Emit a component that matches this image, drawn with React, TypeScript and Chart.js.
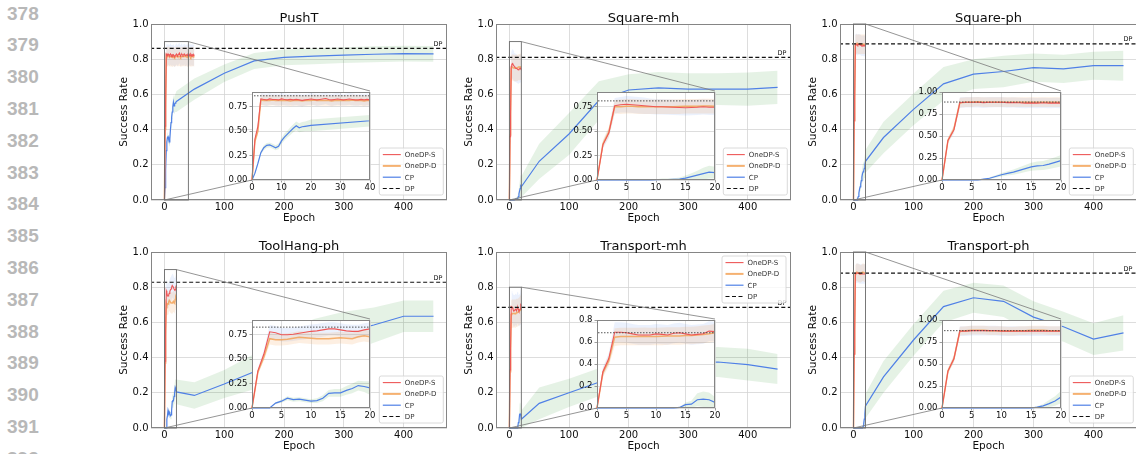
import React, { useEffect, useRef } from "react";
import { Chart, registerables } from "chart.js";

Chart.register(...registerables);

// ---------------- text / ticks ----------------
const LINE_NUMBERS = [378, 379, 380, 381, 382, 383, 384, 385, 386, 387, 388, 389, 390, 391, 392];
const PANEL_TITLES = ["PushT", "Square-mh", "Square-ph", "ToolHang-ph", "Transport-mh", "Transport-ph"];
const SERIES_LABELS = ["OneDP-S", "OneDP-D", "CP", "DP"];
const X_AXIS_LABEL = "Epoch";
const Y_AXIS_LABEL = "Success Rate";
const DP_TEXT = "DP";
const MAIN_X_TICKS = [0, 100, 200, 300, 400];
const MAIN_Y_TICKS = [0, 0.2, 0.4, 0.6, 0.8, 1.0];
const INSET_X_TICKS_40 = [0, 10, 20, 30, 40];
const INSET_X_TICKS_20 = [0, 5, 10, 15, 20];
const INSET_Y_TICKS_Q = [0, 0.25, 0.5, 0.75];
const INSET_Y_TICKS_Q1 = [0, 0.25, 0.5, 0.75, 1.0];
const INSET_Y_TICKS_F = [0, 0.2, 0.4, 0.6, 0.8];

// ---------------- x categories ----------------
const EPOCHS_50 = [0, 1, 2, 3, 4, 5, 6, 7, 8, 9, 10, 11, 12, 13, 14, 15, 16, 17, 18, 19, 20, 21, 22, 23, 24, 25, 26, 27, 28, 29, 30, 31, 32, 33, 34, 35, 36, 37, 38, 39, 40, 41, 42, 43, 44, 45, 46, 47, 48, 49, 50];
const EPOCHS_20 = [0, 1, 2, 3, 4, 5, 6, 7, 8, 9, 10, 11, 12, 13, 14, 15, 16, 17, 18, 19, 20];
const CP_EPOCHS = [0, 1, 2, 3, 4, 5, 6, 7, 8, 9, 10, 11, 12, 13, 14, 15, 16, 17, 18, 19, 20, 50, 100, 150, 200, 250, 300, 350, 400, 450];

// ---------------- PushT ----------------
const PUSHT_S = [0, 0.42, 0.55, 0.83, 0.825, 0.82, 0.83, 0.825, 0.825, 0.82, 0.83,
  0.825, 0.82, 0.825, 0.82, 0.825, 0.82, 0.815, 0.82, 0.825, 0.83,
  0.825, 0.82, 0.825, 0.83, 0.835, 0.825, 0.82, 0.825, 0.83, 0.825,
  0.82, 0.825, 0.83, 0.825, 0.82, 0.82, 0.825, 0.82, 0.825, 0.82,
  0.83, 0.825, 0.82, 0.83, 0.825, 0.82, 0.825, 0.82, 0.825, 0.82];
const PUSHT_S_STD = [0, 0.03, 0.04, 0.06, 0.06, 0.062, 0.06, 0.058, 0.06, 0.06, 0.062,
  0.06, 0.06, 0.058, 0.06, 0.06, 0.062, 0.06, 0.06, 0.058, 0.06,
  0.06, 0.062, 0.06, 0.06, 0.058, 0.06, 0.06, 0.062, 0.06, 0.06,
  0.058, 0.06, 0.06, 0.062, 0.06, 0.06, 0.058, 0.06, 0.06, 0.062,
  0.06, 0.06, 0.058, 0.06, 0.06, 0.062, 0.06, 0.06, 0.058, 0.06];
const PUSHT_D = [0, 0.40, 0.50, 0.82, 0.815, 0.815, 0.815, 0.82, 0.815, 0.815, 0.815,
  0.815, 0.815, 0.81, 0.815, 0.815, 0.815, 0.81, 0.815, 0.815, 0.815,
  0.82, 0.815, 0.815, 0.815, 0.815, 0.815, 0.81, 0.815, 0.815, 0.815,
  0.815, 0.815, 0.815, 0.82, 0.815, 0.815, 0.815, 0.81, 0.815, 0.815,
  0.815, 0.815, 0.815, 0.81, 0.815, 0.815, 0.815, 0.815, 0.815, 0.81];
const PUSHT_D_STD = [0, 0.03, 0.04, 0.055, 0.055, 0.056, 0.055, 0.054, 0.055, 0.055, 0.056,
  0.055, 0.055, 0.054, 0.055, 0.055, 0.056, 0.055, 0.055, 0.054, 0.055,
  0.055, 0.056, 0.055, 0.055, 0.054, 0.055, 0.055, 0.056, 0.055, 0.055,
  0.054, 0.055, 0.055, 0.056, 0.055, 0.055, 0.054, 0.055, 0.055, 0.056,
  0.055, 0.055, 0.054, 0.055, 0.055, 0.056, 0.055, 0.055, 0.054, 0.055];
const PUSHT_CP = [0, 0.07, 0.17, 0.28, 0.33, 0.355, 0.36, 0.345, 0.33, 0.345, 0.40, 0.44, 0.47, 0.50, 0.53, 0.555, 0.535, 0.545, 0.55, 0.555, 0.56,
  0.63, 0.72, 0.79, 0.81, 0.817, 0.823, 0.828, 0.832, 0.83];
const PUSHT_CP_STD = [0, 0.01, 0.015, 0.02, 0.025, 0.025, 0.025, 0.025, 0.025, 0.03, 0.03, 0.035, 0.035, 0.04, 0.04, 0.045, 0.045, 0.05, 0.05, 0.055, 0.06,
  0.06, 0.05, 0.045, 0.045, 0.045, 0.045, 0.045, 0.045, 0.045];
const PUSHT_DP = 0.862;

// ---------------- Square-mh ----------------
const SQMH_S = [0, 0.36, 0.48, 0.76, 0.77, 0.775, 0.77, 0.765, 0.76, 0.755, 0.75, 0.75, 0.748, 0.745, 0.742, 0.74, 0.742, 0.745, 0.75, 0.745, 0.745];
const SQMH_S_STD = [0, 0.04, 0.05, 0.08, 0.08, 0.085, 0.085, 0.085, 0.085, 0.08, 0.08, 0.08, 0.08, 0.08, 0.08, 0.08, 0.08, 0.08, 0.08, 0.08, 0.08];
const SQMH_D = [0, 0.37, 0.49, 0.75, 0.75, 0.755, 0.755, 0.75, 0.75, 0.75, 0.75, 0.75, 0.75, 0.75, 0.752, 0.755, 0.755, 0.755, 0.757, 0.757, 0.755];
const SQMH_D_STD = [0, 0.04, 0.05, 0.07, 0.075, 0.075, 0.075, 0.075, 0.075, 0.075, 0.075, 0.075, 0.075, 0.075, 0.075, 0.075, 0.075, 0.075, 0.075, 0.075, 0.075];
const SQMH_CP = [0, 0, 0, 0, 0, 0, 0, 0, 0, 0, 0.003, 0.005, 0.005, 0.007, 0.01, 0.02, 0.035, 0.05, 0.065, 0.08, 0.075,
  0.22, 0.375, 0.565, 0.625, 0.637, 0.63, 0.63, 0.63, 0.64];
const SQMH_CP_STD = [0, 0, 0, 0, 0, 0, 0, 0, 0, 0, 0.005, 0.01, 0.01, 0.01, 0.015, 0.025, 0.035, 0.045, 0.06, 0.065, 0.06,
  0.1, 0.12, 0.11, 0.09, 0.09, 0.09, 0.09, 0.095, 0.095];
const SQMH_DP = 0.81;

// ---------------- Square-ph ----------------
const SQPH_S = [0, 0.45, 0.57, 0.88, 0.885, 0.885, 0.885, 0.88, 0.885, 0.885, 0.885, 0.88, 0.882, 0.878, 0.875, 0.877, 0.875, 0.878, 0.875, 0.877, 0.875];
const SQPH_S_STD = [0, 0.03, 0.04, 0.06, 0.06, 0.06, 0.06, 0.06, 0.06, 0.058, 0.058, 0.058, 0.058, 0.058, 0.058, 0.058, 0.058, 0.058, 0.058, 0.058, 0.058];
const SQPH_D = [0, 0.45, 0.58, 0.88, 0.885, 0.885, 0.89, 0.885, 0.885, 0.885, 0.885, 0.885, 0.885, 0.885, 0.885, 0.885, 0.885, 0.885, 0.885, 0.885, 0.885];
const SQPH_D_STD = [0, 0.03, 0.04, 0.055, 0.055, 0.055, 0.055, 0.055, 0.055, 0.055, 0.055, 0.055, 0.055, 0.055, 0.055, 0.055, 0.055, 0.055, 0.055, 0.055, 0.055];
const SQPH_CP = [0, 0, 0, 0, 0, 0, 0, 0.01, 0.02, 0.04, 0.06, 0.075, 0.09, 0.11, 0.13, 0.15, 0.16, 0.165, 0.18, 0.2, 0.22,
  0.355, 0.515, 0.66, 0.715, 0.73, 0.752, 0.745, 0.763, 0.763];
const SQPH_CP_STD = [0, 0, 0, 0, 0, 0, 0, 0.005, 0.01, 0.015, 0.02, 0.025, 0.03, 0.035, 0.04, 0.045, 0.05, 0.05, 0.055, 0.06, 0.065,
  0.09, 0.09, 0.095, 0.085, 0.09, 0.08, 0.08, 0.08, 0.085];
const SQPH_DP = 0.887;

// ---------------- ToolHang-ph ----------------
const TOOL_S = [0, 0.38, 0.55, 0.78, 0.77, 0.75, 0.75, 0.755, 0.765, 0.775, 0.785, 0.79, 0.8, 0.81, 0.81, 0.8, 0.79, 0.785, 0.785, 0.8, 0.81];
const TOOL_S_STD = [0, 0.03, 0.04, 0.07, 0.07, 0.07, 0.07, 0.07, 0.07, 0.07, 0.07, 0.07, 0.07, 0.068, 0.068, 0.068, 0.068, 0.068, 0.068, 0.068, 0.068];
const TOOL_D = [0, 0.37, 0.52, 0.71, 0.7, 0.7, 0.705, 0.715, 0.725, 0.72, 0.715, 0.71, 0.71, 0.71, 0.715, 0.72, 0.715, 0.71, 0.73, 0.74, 0.73];
const TOOL_D_STD = [0, 0.03, 0.04, 0.06, 0.06, 0.06, 0.06, 0.06, 0.06, 0.06, 0.06, 0.06, 0.06, 0.06, 0.06, 0.06, 0.06, 0.06, 0.06, 0.06, 0.06];
const TOOL_CP = [0, 0, 0, 0, 0.05, 0.07, 0.1, 0.085, 0.09, 0.08, 0.07, 0.075, 0.1, 0.15, 0.155, 0.155, 0.18, 0.2, 0.23, 0.22, 0.205,
  0.185, 0.25, 0.32, 0.42, 0.5, 0.54, 0.585, 0.635, 0.635];
const TOOL_CP_STD = [0, 0, 0, 0, 0.01, 0.015, 0.02, 0.02, 0.02, 0.02, 0.02, 0.025, 0.03, 0.035, 0.04, 0.04, 0.045, 0.05, 0.05, 0.055, 0.07,
  0.075, 0.08, 0.1, 0.12, 0.12, 0.12, 0.1, 0.09, 0.09];
const TOOL_DP = 0.828;

// ---------------- Transport-mh ----------------
const TRMH_S = [0, 0.33, 0.45, 0.69, 0.69, 0.685, 0.675, 0.665, 0.665, 0.665, 0.675, 0.67, 0.665, 0.68, 0.685, 0.675, 0.665, 0.67, 0.675, 0.7, 0.695];
const TRMH_S_STD = [0, 0.04, 0.05, 0.09, 0.09, 0.09, 0.09, 0.09, 0.09, 0.09, 0.09, 0.09, 0.09, 0.09, 0.09, 0.09, 0.09, 0.09, 0.09, 0.09, 0.09];
const TRMH_D = [0, 0.32, 0.43, 0.645, 0.65, 0.65, 0.65, 0.65, 0.652, 0.65, 0.65, 0.652, 0.655, 0.655, 0.655, 0.66, 0.66, 0.665, 0.67, 0.675, 0.685];
const TRMH_D_STD = [0, 0.04, 0.05, 0.08, 0.08, 0.08, 0.08, 0.08, 0.08, 0.08, 0.08, 0.08, 0.08, 0.08, 0.08, 0.08, 0.08, 0.08, 0.08, 0.08, 0.08];
const TRMH_CP = [0, 0, 0, 0, 0, 0, 0, 0, 0, 0, 0, 0, 0, 0, 0.005, 0.03, 0.035, 0.075, 0.08, 0.075, 0.05,
  0.14, 0.2, 0.26, 0.31, 0.35, 0.37, 0.375, 0.36, 0.335];
const TRMH_CP_STD = [0, 0, 0, 0, 0, 0, 0, 0, 0, 0, 0, 0, 0, 0, 0.005, 0.02, 0.03, 0.06, 0.07, 0.065, 0.05,
  0.09, 0.08, 0.08, 0.085, 0.085, 0.085, 0.085, 0.09, 0.085];
const TRMH_DP = 0.685;

// ---------------- Transport-ph ----------------
const TRPH_S = [0, 0.42, 0.56, 0.875, 0.875, 0.88, 0.88, 0.88, 0.88, 0.88, 0.875, 0.875, 0.875, 0.875, 0.875, 0.875, 0.875, 0.875, 0.875, 0.875, 0.875];
const TRPH_S_STD = [0, 0.03, 0.04, 0.055, 0.055, 0.055, 0.055, 0.055, 0.055, 0.055, 0.055, 0.055, 0.055, 0.055, 0.055, 0.055, 0.055, 0.055, 0.055, 0.055, 0.055];
const TRPH_D = [0, 0.42, 0.56, 0.875, 0.88, 0.885, 0.885, 0.885, 0.88, 0.88, 0.88, 0.875, 0.875, 0.88, 0.88, 0.885, 0.885, 0.885, 0.88, 0.88, 0.88];
const TRPH_D_STD = [0, 0.03, 0.04, 0.05, 0.05, 0.05, 0.05, 0.05, 0.05, 0.05, 0.05, 0.05, 0.05, 0.05, 0.05, 0.05, 0.05, 0.05, 0.05, 0.05, 0.05];
const TRPH_CP = [0, 0, 0, 0, 0, 0, 0, 0, 0, 0, 0, 0, 0, 0, 0, 0, 0.01, 0.025, 0.05, 0.08, 0.125,
  0.29, 0.5, 0.69, 0.74, 0.72, 0.63, 0.575, 0.505, 0.54];
const TRPH_CP_STD = [0, 0, 0, 0, 0, 0, 0, 0, 0, 0, 0, 0, 0, 0, 0, 0, 0.01, 0.02, 0.04, 0.055, 0.07,
  0.09, 0.09, 0.09, 0.085, 0.09, 0.09, 0.085, 0.09, 0.1];
const TRPH_DP = 0.88;

// ---------------- panel tables ----------------
const PANELS = [
  { title: PANEL_TITLES[0], epochs: EPOCHS_50, s: PUSHT_S, sStd: PUSHT_S_STD, d: PUSHT_D, dStd: PUSHT_D_STD, cp: PUSHT_CP, cpStd: PUSHT_CP_STD, dp: PUSHT_DP, zoomX: 40, zoomY: 0.9, insetXTicks: INSET_X_TICKS_40, insetYTicks: INSET_Y_TICKS_Q, insetYDec: 2, legendTop: false },
  { title: PANEL_TITLES[1], epochs: EPOCHS_20, s: SQMH_S, sStd: SQMH_S_STD, d: SQMH_D, dStd: SQMH_D_STD, cp: SQMH_CP, cpStd: SQMH_CP_STD, dp: SQMH_DP, zoomX: 20, zoomY: 0.9, insetXTicks: INSET_X_TICKS_20, insetYTicks: INSET_Y_TICKS_Q, insetYDec: 2, legendTop: false },
  { title: PANEL_TITLES[2], epochs: EPOCHS_20, s: SQPH_S, sStd: SQPH_S_STD, d: SQPH_D, dStd: SQPH_D_STD, cp: SQPH_CP, cpStd: SQPH_CP_STD, dp: SQPH_DP, zoomX: 20, zoomY: 1.0, insetXTicks: INSET_X_TICKS_20, insetYTicks: INSET_Y_TICKS_Q1, insetYDec: 2, legendTop: false },
  { title: PANEL_TITLES[3], epochs: EPOCHS_20, s: TOOL_S, sStd: TOOL_S_STD, d: TOOL_D, dStd: TOOL_D_STD, cp: TOOL_CP, cpStd: TOOL_CP_STD, dp: TOOL_DP, zoomX: 20, zoomY: 0.9, insetXTicks: INSET_X_TICKS_20, insetYTicks: INSET_Y_TICKS_Q, insetYDec: 2, legendTop: false },
  { title: PANEL_TITLES[4], epochs: EPOCHS_20, s: TRMH_S, sStd: TRMH_S_STD, d: TRMH_D, dStd: TRMH_D_STD, cp: TRMH_CP, cpStd: TRMH_CP_STD, dp: TRMH_DP, zoomX: 20, zoomY: 0.8, insetXTicks: INSET_X_TICKS_20, insetYTicks: INSET_Y_TICKS_F, insetYDec: 1, legendTop: true },
  { title: PANEL_TITLES[5], epochs: EPOCHS_20, s: TRPH_S, sStd: TRPH_S_STD, d: TRPH_D, dStd: TRPH_D_STD, cp: TRPH_CP, cpStd: TRPH_CP_STD, dp: TRPH_DP, zoomX: 20, zoomY: 1.0, insetXTicks: INSET_X_TICKS_20, insetYTicks: INSET_Y_TICKS_Q1, insetYDec: 2, legendTop: false },
];

// ---------------- style / layout ----------------
const FONT = "'DejaVu Sans', sans-serif";
const TEXT = "#0d0d0d";
const GRID = "#d4d4d4";
const SPINE = "#858585";
const RED = "#ee5757";
const ORANGE = "rgba(243,163,88,0.85)";
const BLUE = "#4f80e6";
const GREEN_BAND = "rgba(0,128,0,0.1)";
const S_BAND = "rgba(100,149,237,0.13)";
const D_BAND = "rgba(244,164,96,0.18)";
const COL_LEFT = [151, 496, 840];
const COL_WIDTH = [296, 295, 297];
const ROW_TOP = [24, 252];
const PLOT_H = 176;
const M_PAD_L = 55, M_PAD_T = 24, M_PAD_R = 12, M_PAD_B = 30;
const I_PAD_L = 28, I_PAD_T = 6, I_PAD_R = 8, I_PAD_B = 14;
const X_MIN = -22.5, X_MAX = 472.5;
const DP_LABEL_EPOCH = 450;

type Panel = typeof PANELS[number];

function pts(xs: number[], ys: number[], sd?: number[], sign = 0) {
  return xs.map((x, i) => ({ x, y: ys[i] + (sd ? sign * sd[i] : 0) }));
}

function buildDatasets(p: Panel, inset: boolean): any[] {
  const clip = { left: 2, top: 0, right: 0, bottom: 2 };
  const band = { pointRadius: 0, borderWidth: 0, borderColor: "rgba(0,0,0,0)" };
  const line = { pointRadius: 0, fill: false, clip };
  return [
    { ...band, label: "cp+", data: pts(CP_EPOCHS, p.cp, p.cpStd, 1), fill: false, order: 30 },
    { ...band, label: "cp-", data: pts(CP_EPOCHS, p.cp, p.cpStd, -1), fill: "-1", backgroundColor: GREEN_BAND, order: 30 },
    { ...band, label: "s+", data: pts(p.epochs, p.s, p.sStd, 1), fill: false, order: 20 },
    { ...band, label: "s-", data: pts(p.epochs, p.s, p.sStd, -1), fill: "-1", backgroundColor: S_BAND, order: 20 },
    { ...band, label: "d+", data: pts(p.epochs, p.d, p.dStd, 1), fill: false, order: 19 },
    { ...band, label: "d-", data: pts(p.epochs, p.d, p.dStd, -1), fill: "-1", backgroundColor: D_BAND, order: 19 },
    { ...line, label: SERIES_LABELS[2], data: pts(CP_EPOCHS, p.cp), borderColor: BLUE, borderWidth: 1.2, order: 5 },
    { ...line, label: SERIES_LABELS[1], data: pts(p.epochs, p.d), borderColor: ORANGE, borderWidth: 1.5, order: 4 },
    { ...line, label: SERIES_LABELS[0], data: pts(p.epochs, p.s), borderColor: RED, borderWidth: 1.1, order: 3 },
    {
      label: SERIES_LABELS[3], data: [{ x: -100, y: p.dp }, { x: 1000, y: p.dp }], pointRadius: 0, fill: false,
      borderColor: inset ? "#444" : "#111", borderDash: inset ? [1.5, 1.5] : [4, 2.5], borderWidth: inset ? 0.9 : 1.2, order: 2,
    },
  ];
}

function tickSetter(values: number[]) {
  return (s: any) => { s.ticks = values.map((value) => ({ value })); };
}

function drawLegend(ctx: CanvasRenderingContext2D, a: any, top: boolean) {
  const bw = 64, bh = 47, rowH = 11.3;
  const bx = top ? a.right - 5 - bw : a.right - 3.7 - bw;
  const by = top ? a.top + 4 : a.bottom - 5 - bh;
  ctx.save();
  ctx.beginPath();
  const r = 2;
  ctx.moveTo(bx + r, by);
  ctx.arcTo(bx + bw, by, bx + bw, by + bh, r);
  ctx.arcTo(bx + bw, by + bh, bx, by + bh, r);
  ctx.arcTo(bx, by + bh, bx, by, r);
  ctx.arcTo(bx, by, bx + bw, by, r);
  ctx.closePath();
  ctx.fillStyle = "rgba(255,255,255,0.8)";
  ctx.fill();
  ctx.strokeStyle = "#d0d0d0";
  ctx.lineWidth = 0.8;
  ctx.stroke();
  const styles = [
    { c: RED, w: 1.1, dash: [] as number[] },
    { c: ORANGE, w: 2, dash: [] as number[] },
    { c: BLUE, w: 1.2, dash: [] as number[] },
    { c: "#111", w: 1.2, dash: [4, 2.5] },
  ];
  ctx.font = `7px ${FONT}`;
  ctx.textBaseline = "middle";
  ctx.textAlign = "left";
  SERIES_LABELS.forEach((lab, i) => {
    const y = by + 6.6 + rowH * i;
    const st = styles[i];
    ctx.beginPath();
    ctx.setLineDash(st.dash);
    ctx.strokeStyle = st.c;
    ctx.lineWidth = st.w;
    ctx.moveTo(bx + 3.5, y);
    ctx.lineTo(bx + 21.5, y);
    ctx.stroke();
    ctx.setLineDash([]);
    ctx.fillStyle = "#333";
    ctx.fillText(lab, bx + 25.5, y + 0.5);
  });
  ctx.restore();
}

function PanelView({ p, col, row }: { p: Panel; col: number; row: number }) {
  const mainRef = useRef<HTMLCanvasElement>(null);
  const insetRef = useRef<HTMLCanvasElement>(null);
  const L = COL_LEFT[col], W = COL_WIDTH[col], T = ROW_TOP[row];
  const mb = { x: L - M_PAD_L, y: T - M_PAD_T, w: W + M_PAD_L + M_PAD_R, h: PLOT_H + M_PAD_T + M_PAD_B };
  const ins = { x: Math.round(L + 0.342 * W), y: T + 67, w: Math.round(0.4 * W), h: 89 };
  const ib = { x: ins.x - I_PAD_L, y: ins.y - I_PAD_T, w: ins.w + I_PAD_L + I_PAD_R, h: ins.h + I_PAD_T + I_PAD_B };

  useEffect(() => {
    const decor = {
      id: "mainDecor",
      afterDraw(chart: any) {
        const { ctx, chartArea: a, scales } = chart;
        const xs = scales.x, ys = scales.y;
        ctx.save();
        ctx.strokeStyle = SPINE;
        ctx.lineWidth = 1;
        ctx.strokeRect(Math.round(a.left) + 0.5, Math.round(a.top) + 0.5, Math.round(a.right - a.left) - 1, Math.round(a.bottom - a.top) - 1);
        ctx.font = `6.5px ${FONT}`;
        ctx.fillStyle = TEXT;
        ctx.textAlign = "left";
        ctx.textBaseline = "alphabetic";
        ctx.fillText(DP_TEXT, xs.getPixelForValue(DP_LABEL_EPOCH), ys.getPixelForValue(p.dp) - 2.5);
        const bx0 = xs.getPixelForValue(0), bx1 = xs.getPixelForValue(p.zoomX);
        const by0 = ys.getPixelForValue(0), by1 = ys.getPixelForValue(p.zoomY);
        ctx.strokeStyle = "#6a6a6a";
        ctx.lineWidth = 0.9;
        ctx.strokeRect(bx0, by1, bx1 - bx0, by0 - by1);
        const iL = ins.x - mb.x, iT = ins.y - mb.y, iR = iL + ins.w, iB = iT + ins.h;
        ctx.strokeStyle = "#7a7a7a";
        ctx.lineWidth = 0.8;
        ctx.beginPath();
        ctx.moveTo(bx1, by1); ctx.lineTo(iR, iT);
        ctx.moveTo(bx0, by0); ctx.lineTo(iL, iB);
        ctx.stroke();
        drawLegend(ctx, a, p.legendTop);
        ctx.font = `13px ${FONT}`;
        ctx.fillStyle = TEXT;
        ctx.textAlign = "center";
        ctx.textBaseline = "alphabetic";
        ctx.fillText(p.title, (a.left + a.right) / 2, a.top - 2.5);
        ctx.restore();
      },
    };
    const main = new Chart(mainRef.current as HTMLCanvasElement, {
      type: "line",
      data: { datasets: buildDatasets(p, false) },
      options: {
        animation: false,
        responsive: false,
        devicePixelRatio: 1,
        events: [],
        layout: { padding: { top: M_PAD_T, right: M_PAD_R, left: 0, bottom: 0 } },
        elements: { line: { tension: 0 } },
        plugins: { legend: { display: false }, title: { display: false }, tooltip: { enabled: false } },
        scales: {
          x: {
            type: "linear", min: X_MIN, max: X_MAX, bounds: "data",
            afterBuildTicks: tickSetter(MAIN_X_TICKS),
            afterFit: (s: any) => { s.height = M_PAD_B; },
            grid: { color: GRID, lineWidth: 0.8, drawTicks: false },
            border: { display: false },
            ticks: { font: { family: FONT, size: 10 }, color: TEXT, padding: 1.5, autoSkip: false, maxRotation: 0, callback: (v: any) => String(v) },
            title: { display: true, text: X_AXIS_LABEL, font: { family: FONT, size: 10.5 }, color: TEXT, padding: { top: 0, bottom: 5.2 } },
          },
          y: {
            type: "linear", min: 0, max: 1, bounds: "data",
            afterBuildTicks: tickSetter(MAIN_Y_TICKS),
            afterFit: (s: any) => { s.width = M_PAD_L; },
            grid: { color: GRID, lineWidth: 0.8, drawTicks: false },
            border: { display: false },
            ticks: { font: { family: FONT, size: 10 }, color: TEXT, padding: 2.5, autoSkip: false, callback: (v: any) => Number(v).toFixed(1) },
            title: { display: true, text: Y_AXIS_LABEL, font: { family: FONT, size: 10.5 }, color: TEXT, padding: { top: 21.7, bottom: 0 } },
          },
        },
      } as any,
      plugins: [decor],
    });

    const insetDecor = {
      id: "insetDecor",
      beforeDraw(chart: any) {
        const { ctx, chartArea: a } = chart;
        ctx.save();
        ctx.fillStyle = "#ffffff";
        ctx.fillRect(a.left, a.top, a.right - a.left, a.bottom - a.top);
        ctx.restore();
      },
      afterDraw(chart: any) {
        const { ctx, chartArea: a } = chart;
        ctx.save();
        ctx.strokeStyle = SPINE;
        ctx.lineWidth = 1;
        ctx.strokeRect(Math.round(a.left) + 0.5, Math.round(a.top) + 0.5, Math.round(a.right - a.left) - 1, Math.round(a.bottom - a.top) - 1);
        ctx.restore();
      },
    };
    const inset = new Chart(insetRef.current as HTMLCanvasElement, {
      type: "line",
      data: { datasets: buildDatasets(p, true) },
      options: {
        animation: false,
        responsive: false,
        devicePixelRatio: 1,
        events: [],
        layout: { padding: { top: I_PAD_T, right: I_PAD_R, left: 0, bottom: 0 } },
        elements: { line: { tension: 0 } },
        plugins: { legend: { display: false }, title: { display: false }, tooltip: { enabled: false } },
        scales: {
          x: {
            type: "linear", min: 0, max: p.zoomX, bounds: "data",
            afterBuildTicks: tickSetter(p.insetXTicks),
            afterFit: (s: any) => { s.height = I_PAD_B; },
            grid: { color: GRID, lineWidth: 0.8, drawTicks: true, tickLength: 2.5, tickColor: SPINE },
            border: { display: false },
            ticks: { font: { family: FONT, size: 8.5 }, color: TEXT, padding: 0, autoSkip: false, maxRotation: 0, callback: (v: any) => String(v) },
          },
          y: {
            type: "linear", min: 0, max: p.zoomY, bounds: "data",
            afterBuildTicks: tickSetter(p.insetYTicks),
            afterFit: (s: any) => { s.width = I_PAD_L; },
            grid: { color: GRID, lineWidth: 0.8, drawTicks: true, tickLength: 2.5, tickColor: SPINE },
            border: { display: false },
            ticks: { font: { family: FONT, size: 8.5 }, color: TEXT, padding: 2, autoSkip: false, callback: (v: any) => Number(v).toFixed(p.insetYDec) },
          },
        },
      } as any,
      plugins: [insetDecor],
    });
    return () => { main.destroy(); inset.destroy(); };
  }, []);

  return (
    <>
      <canvas ref={mainRef} width={mb.w} height={mb.h} style={{ position: "absolute", left: mb.x, top: mb.y, width: mb.w, height: mb.h }} />
      <canvas ref={insetRef} width={ib.w} height={ib.h} style={{ position: "absolute", left: ib.x, top: ib.y, width: ib.w, height: ib.h }} />
    </>
  );
}

export default function App() {
  return (
    <div style={{ position: "absolute", left: 0, top: 0, width: 1136, height: 454, overflow: "hidden", background: "#fff" }}>
      {LINE_NUMBERS.map((n, i) => (
        <div key={n} style={{ position: "absolute", left: 7, top: 13.6 + 31.8 * i - 10, height: 20, lineHeight: "20px", fontFamily: "'Liberation Sans', Arial, sans-serif", fontSize: 19, fontWeight: 700, color: "#b8b8b8" }}>
          {n}
        </div>
      ))}
      {PANELS.map((p, k) => (
        <PanelView key={p.title} p={p} col={k % 3} row={Math.floor(k / 3)} />
      ))}
    </div>
  );
}
